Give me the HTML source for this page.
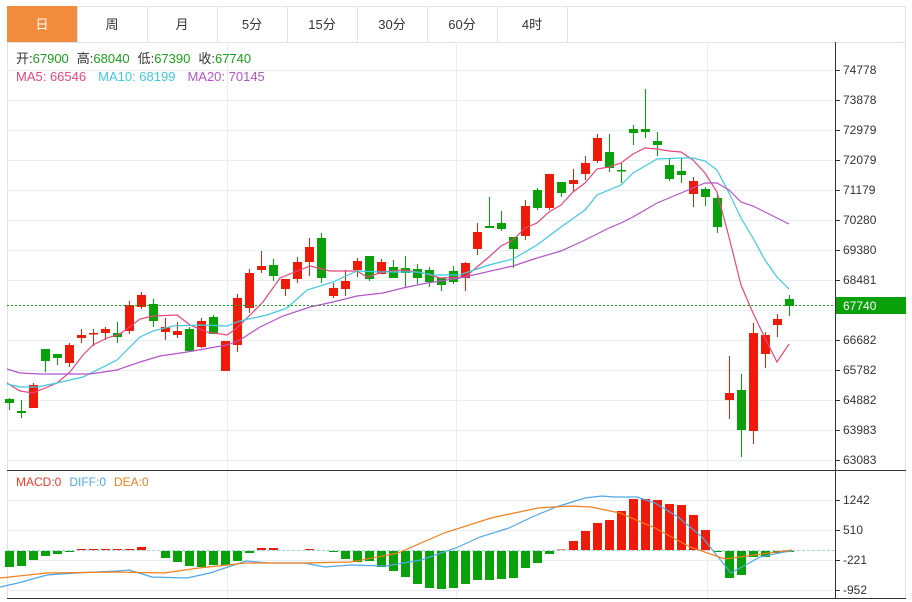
<!DOCTYPE html>
<html><head><meta charset="utf-8"><style>
body{margin:0;background:#fff;width:912px;height:602px;overflow:hidden;font-family:"Liberation Sans","Noto Sans CJK SC",sans-serif}
svg{position:absolute;left:0;top:0}
</style></head><body>
<svg id="s" width="912" height="602" xmlns="http://www.w3.org/2000/svg" font-family="Liberation Sans, Noto Sans CJK SC, sans-serif"></svg>
<script>
const S=document.getElementById('s');let h='';
const R='#ee1a0a',G='#0aa00a';
// frame
h+='<rect x="7.5" y="6.5" width="898" height="592" fill="none" stroke="#dde3ea"/>';
// tabs
const tabs=['日','周','月','5分','15分','30分','60分','4时'];
h+='<line x1="7" y1="42.5" x2="906" y2="42.5" stroke="#dde3ea"/>';
tabs.forEach((t,i)=>{let x=7+i*70;
 if(i==0)h+=`<rect x="${x}" y="6" width="70" height="36" fill="#f28c3c"/>`;
 h+=`<line x1="${x+70.5}" y1="6" x2="${x+70.5}" y2="42" stroke="#dde3ea"/>`;
 h+=`<text x="${x+35}" y="29" font-size="13" text-anchor="middle" fill="${i==0?'#fff':'#333'}">${t}</text>`;});
// grids
[70,100,130,160,190,220,250,280,310,340,370,400,430,460,500,530,560,590].forEach(y=>h+=`<line x1="7" y1="${y+.5}" x2="835" y2="${y+.5}" stroke="#e6edf3"/>`);
[227,456,707].forEach(x=>h+=`<line x1="${x+.5}" y1="42" x2="${x+.5}" y2="598" stroke="#e6edf3"/>`);
h+='<line x1="835.5" y1="42" x2="835.5" y2="598" stroke="#333"/>';
h+='<line x1="7" y1="470.5" x2="906" y2="470.5" stroke="#333"/>';
h+='<line x1="7" y1="598.5" x2="906" y2="598.5" stroke="#333"/>';
// axis labels
const L=[[70,74778],[100,73878],[130,72979],[160,72079],[190,71179],[220,70280],[250,69380],[280,68481],[340,66682],[370,65782],[400,64882],[430,63983],[460,63083],[500,1242],[530,510],[560,-221],[590,-952]];
L.forEach(([y,v])=>{h+=`<line x1="835" y1="${y+.5}" x2="840" y2="${y+.5}" stroke="#333"/><text x="843" y="${y+4}" font-size="12" fill="#333">${v}</text>`;});
// info
h+='<text x="16" y="63" font-size="13"><tspan fill="#333">开:</tspan><tspan fill="#1a9f1a">67900</tspan><tspan fill="#333" dx="8">高:</tspan><tspan fill="#1a9f1a">68040</tspan><tspan fill="#333" dx="8">低:</tspan><tspan fill="#1a9f1a">67390</tspan><tspan fill="#333" dx="8">收:</tspan><tspan fill="#1a9f1a">67740</tspan></text>';
h+='<text x="16" y="81" font-size="13"><tspan fill="#e8467e">MA5: 66546</tspan><tspan fill="#3fc9e0" dx="12">MA10: 68199</tspan><tspan fill="#b455c8" dx="12">MA20: 70145</tspan></text>';
h+='<text x="16" y="486" font-size="12"><tspan fill="#f03a2a">MACD:0</tspan><tspan fill="#4fa8e8" dx="8">DIFF:0</tspan><tspan fill="#f07f1e" dx="8">DEA:0</tspan></text>';
// candles: [c,top,bot,hi,lo]
const C=[['g',399,403,398,410],['g',411,413,400,418],['r',385,408,383,408],['g',349,361,349,372],['g',354,358,354,365],['r',345,363,343,367],['r',335,338,329,343],['r',333,334,329,346],['r',329,333,327,340],['g',333,337,322,343],['r',305,331,301,334],['r',295,307,292,309],['g',304,321,299,327],['r',327,332,318,340],['r',331,335,322,338],['g',329,351,327,351],['r',321,347,318,348],['g',317,334,315,334],['r',341,371,341,371],['r',298,345,294,352],['r',273,308,269,313],['r',266,270,251,273],['g',265,276,259,281],['r',279,289,279,296],['r',262,279,257,283],['r',247,262,238,276],['g',238,278,233,283],['r',288,296,283,298],['r',281,289,270,296],['r',261,270,258,277],['g',256,279,256,281],['r',262,274,259,274],['g',267,278,260,278],['g',268,273,256,288],['g',269,278,264,284],['g',270,282,267,287],['g',278,285,278,291],['g',271,282,266,284],['r',263,278,262,291],['r',232,249,223,255],['g',226,228,197,228],['g',223,229,211,231],['g',237,249,237,268],['r',206,236,200,240],['g',190,208,188,210],['r',174,208,174,210],['g',182,193,182,197],['r',180,184,169,191],['r',163,174,156,180],['r',138,161,134,163],['g',152,168,134,172],['g',170,171,163,183],['g',129,133,125,145],['g',129,132,89,138],['g',141,145,132,156],['g',165,179,158,181],['g',171,175,158,183],['r',181,194,177,207],['g',189,197,187,206],['g',198,227,193,233],['r',393,400,356,419],['g',390,430,374,457],['r',333,431,323,444],['r',335,354,332,368],['r',319,325,314,337],['g',299,306,295,316]];
C.forEach((c,i)=>{const x=9+12*i,col=c[0]=='r'?R:G;
 h+=`<line x1="${x+.5}" y1="${c[3]}" x2="${x+.5}" y2="${c[4]}" stroke="${col}"/>`;
 h+=`<rect x="${x-4}" y="${c[1]}" width="9" height="${Math.max(1.5,c[2]-c[1])}" fill="${col}"/>`;});
const pl=(p,col)=>h+=`<polyline points="${p}" fill="none" stroke="${col}" stroke-width="1.2"/>`;
pl('7,383 20,391 33,393 57,383 70,372 83,355 93,345 107,338 120,334 140,319 153,316 177,315 190,325 207,332 227,335 237,328 247,318 263,302 280,278 310,266 330,271 343,271 357,271 367,277 383,272 403,270 423,273 440,278 465,277 477,267 489,257 501,246 513,240 525,228 537,223 549,212 561,205 573,192 585,183 597,169 609,167 621,163 633,154 645,148 657,149 669,151 681,152 693,160 705,173 717,192 729,237 741,285 753,313 765,338 777,362 789,344','#e8467e');
pl('7,384 20,387 37,387 57,383 83,377 117,360 140,337 153,331 173,326 200,325 227,326 240,321 267,315 287,308 307,290 333,282 357,271 383,272 417,272 433,275 460,275 465,273 489,265 513,259 537,245 561,227 585,210 597,195 621,185 633,173 645,166 657,159 681,158 693,158 705,161 717,170 729,193 741,218 753,238 765,260 777,277 789,289','#3fc9e0');
pl('7,369 20,373 40,374 90,374 117,370 140,362 160,356 187,352 227,345 240,340 260,327 283,316 310,307 333,302 357,296 383,293 403,288 427,283 460,278 513,266 537,258 561,251 585,240 609,228 621,223 633,217 657,203 681,193 705,183 717,183 729,190 741,202 753,206 789,224','#b455c8');
// price line
h+='<line x1="7" y1="305.5" x2="835" y2="305.5" stroke="#1aa31a" stroke-dasharray="2,2"/>';
h+='<rect x="836" y="297" width="70" height="17" fill="#0aa00a"/><text x="843" y="310" font-size="12" fill="#fff">67740</text>';
// macd
h+='<line x1="7" y1="550.5" x2="835" y2="550.5" stroke="#9fd3e6" stroke-dasharray="3,2"/>';
const M=[-16,-15,-9,-5,-3,-1,1,1,1,1,1,3,0,-7,-11,-15,-16,-14,-14,-10,-2,2,2,0,0,1,0,-1,-8,-11,-10,-16,-20,-26,-33,-37,-38,-37,-33,-29,-29,-28,-27,-17,-12,-3,.5,9,19,27,30,39,51,51,50,46,45,35,20,-1,-27,-24,-6,-6,-2,-1];
M.forEach((v,i)=>{if(!v)return;const x=9+12*i;const y=v>0?550-v:551;
 h+=`<rect x="${x-4}" y="${y}" width="9" height="${Math.abs(v)}" fill="${v>0?R:G}"/>`;});
pl('0,587 18,583 47,575 76,573 117,571 129,570 152,577 187,578 210,573 228,567 246,561 269,563 304,563 325,567 351,565 386,566 421,560 456,548 480,537 509,528 532,517 556,507 585,498 602,496 614,497 637,497 655,503 678,517 702,537 731,573 760,557 784,552 792,551','#4fa8e8');
pl('0,578 47,573 117,572 164,573 199,568 246,563 304,563 351,562 398,553 444,533 491,518 538,508 570,506 591,507 620,513 655,528 690,547 725,559 754,555 792,550','#f07f1e');
S.innerHTML=h;
</script>
</body></html>
